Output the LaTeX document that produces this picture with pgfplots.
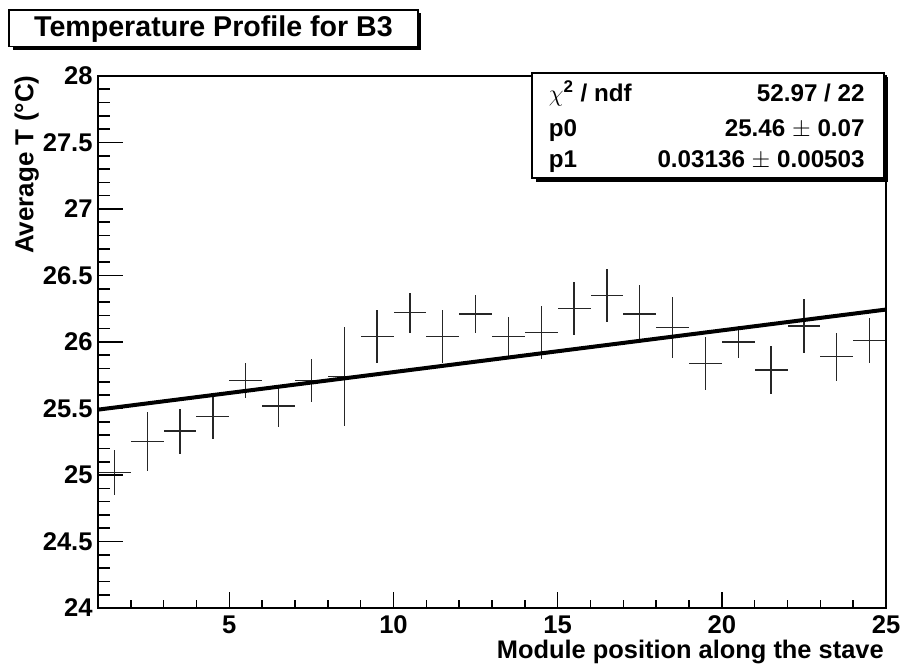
\documentclass[border=0pt]{standalone}
\usepackage{pgfplots}
\pgfplotsset{compat=1.18}
\usepackage{fontspec}
\setmainfont{Liberation Sans}
\pgfplotstableread{
x y e
1.5 25.02 0.17
2.5 25.25 0.22
3.5 25.33 0.17
4.5 25.44 0.17
5.5 25.71 0.13
6.5 25.52 0.16
7.5 25.71 0.16
8.5 25.74 0.37
9.5 26.04 0.20
10.5 26.22 0.15
11.5 26.04 0.20
12.5 26.21 0.14
13.5 26.04 0.15
14.5 26.07 0.20
15.5 26.25 0.20
16.5 26.35 0.20
17.5 26.21 0.22
18.5 26.11 0.23
19.5 25.84 0.20
20.5 26.00 0.12
21.5 25.79 0.18
22.5 26.12 0.20
23.5 25.89 0.18
24.5 26.01 0.17
}\datatable
\begin{document}
\begin{tikzpicture}[x=1pt,y=1pt]
\path[use as bounding box] (-49,-28) rectangle (403,304);
\pgfplotsset{common/.style={width=394pt,height=266pt,scale only axis,
  xmin=1,xmax=25,ymin=24,ymax=28,at={(0,0)},anchor=south west,
  axis line style={line width=0.8pt,black},
  tick style={line width=0.8pt,black}, tick align=inside,
  /pgf/number format/assume math mode=true,
  tick label style={font=\fontsize{12.8}{14}\selectfont\bfseries}}}
\begin{axis}[common,
  xtick={5,10,15,20,25}, minor xtick={2,...,24}, xtick pos=bottom,
  ytick=\empty, major tick length=8pt, minor tick length=4pt,
  xticklabel style={inner sep=0pt, yshift=-3.5pt}]
\addplot[draw=none, mark=none,
  error bars/.cd, x dir=both, x fixed=0.5, y dir=both, y explicit,
  error mark=none, error bar style={line width=0.7pt, black!85}]
  table[x=x,y=y,y error=e] {\datatable};
\addplot[line width=2pt, black] coordinates {(1,25.49136) (25,26.244)};
\end{axis}
\begin{axis}[common,
  xtick=\empty, ytick={24,24.5,...,28}, minor y tick num=4, ytick pos=left,
  major tick length=12.5pt, minor tick length=6pt,
  yticklabel style={inner sep=0pt, xshift=-2.5pt}]
\end{axis}
% axis titles
\node[anchor=base east, inner sep=0pt, font=\fontsize{12.7}{14}\selectfont\bfseries] at (393,-25.3) {Module position along the stave};
\node[rotate=90, anchor=base east, inner sep=0pt, font=\fontsize{13}{15}\selectfont\bfseries] at (-32.3,266.5) {Average T (°C)};
% title box
\fill[black] (-42.7,279.0) rectangle (161.7,297.3);
\draw[line width=0.8pt, fill=white] (-44.4,280.7) rectangle (160,299);
\node[font=\fontsize{14.3}{16}\selectfont\bfseries, inner sep=0pt] at (57.75,289.5) {Temperature Profile for B3};
% stats box
\fill[black] (218.85,212.85) rectangle (395,265.35);
\draw[line width=0.8pt, fill=white] (216.85,214.85) rectangle (393,267.35);
\begin{scope}[font=\fontsize{12.1}{14}\selectfont\bfseries]
\node[anchor=base west, inner sep=0pt] at (225.2,253.2) {$\chi$\textsuperscript{2} / ndf};
\node[anchor=base east, inner sep=0pt] at (383.5,253.2) {52.97 / 22};
\node[anchor=base west, inner sep=0pt] at (225.2,235.7) {p0};
\node[anchor=base east, inner sep=0pt] at (383.5,235.7) {25.46 $\pm$ 0.07};
\node[anchor=base west, inner sep=0pt] at (225.2,220) {p1};
\node[anchor=base east, inner sep=0pt] at (383.5,220) {0.03136 $\pm$ 0.00503};
\end{scope}
\end{tikzpicture}
\end{document}
